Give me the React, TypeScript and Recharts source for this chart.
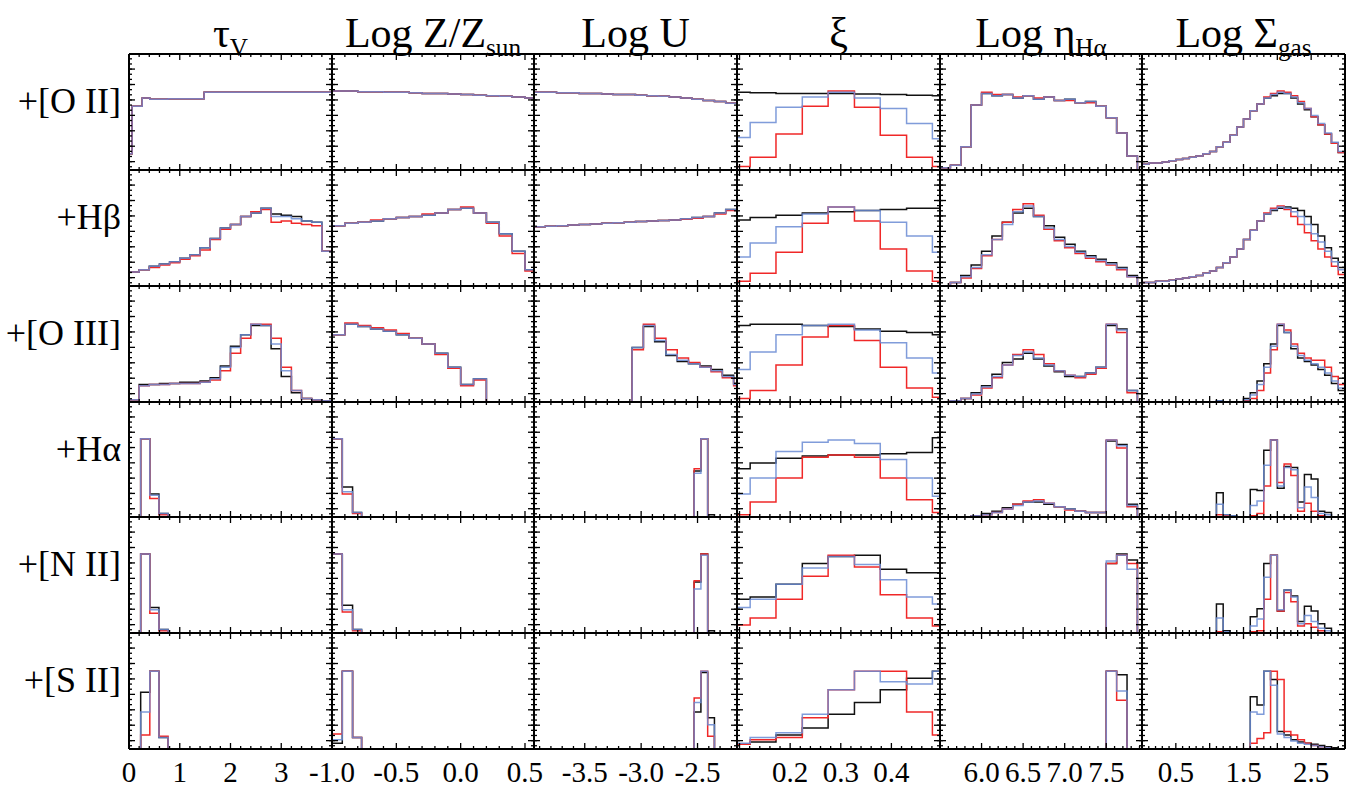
import React from 'react';
import { LineChart, Line, XAxis, YAxis } from 'recharts';

// panel grid (page px)
const COL_X = [129, 332, 534, 737, 940, 1142, 1345];
const ROW_Y = [54, 170, 286, 402, 517, 633, 749];
const PAD = 3;
const LAB_H = 40;

const FONT = '"Liberation Serif", "DejaVu Serif", "Times New Roman", Times, serif';
const BLACK = '#111111';
const BLUE = '#6a8bd4';
const RED = '#f02828';

const ROW_LABELS = ['+[O II]', '+H\u03b2', '+[O III]', '+H\u03b1', '+[N II]', '+[S II]'];

// bin edges, one set per parameter
const tauEdges = [0, 0.2, 0.4, 0.6, 0.8, 1.0, 1.2, 1.4, 1.6, 1.8, 2.0, 2.2, 2.4, 2.6, 2.8, 3.0, 3.2, 3.4, 3.6, 3.8, 4.0];
const tauEdgesO2 = [0, 0.06, 0.26, 0.41, 0.77, 1.48, 4.0];
const tauEdgesLine = [0, 0.23, 0.41, 0.59, 0.77, 4.0];
const zEdges = [-1.0, -0.9, -0.8, -0.7, -0.6, -0.5, -0.4, -0.3, -0.2, -0.1, 0.0, 0.1, 0.2, 0.3, 0.4, 0.5, 0.57];
const zEdgesLine = [-1.0, -0.92, -0.84, -0.77, 0.57];
const uEdges = [-3.95, -3.85, -3.75, -3.65, -3.55, -3.45, -3.35, -3.25, -3.15, -3.05, -2.95, -2.85, -2.75, -2.65, -2.55, -2.45, -2.35, -2.25, -2.15];
const uEdgesO3 = [-3.95, -3.08, -2.98, -2.88, -2.78, -2.68, -2.58, -2.48, -2.38, -2.28, -2.18, -2.15];
const uEdgesLine = [-3.95, -2.53, -2.47, -2.41, -2.35, -2.15];
const xiEdges = [0.095, 0.121, 0.172, 0.224, 0.275, 0.327, 0.378, 0.43, 0.481, 0.496];
const etaEdges = [5.5, 5.625, 5.75, 5.875, 6.0, 6.125, 6.25, 6.375, 6.5, 6.625, 6.75, 6.875, 7.0, 7.125, 7.25, 7.375, 7.5, 7.625, 7.75, 7.875, 7.93];
const sigEdges = [0, 0.1, 0.2, 0.3, 0.4, 0.5, 0.6, 0.7, 0.8, 0.9, 1.0, 1.1, 1.2, 1.3, 1.4, 1.5, 1.6, 1.7, 1.8, 1.9, 2.0, 2.1, 2.2, 2.3, 2.4, 2.5, 2.6, 2.7, 2.8, 2.9, 3.0];

// ---- +[O II] ----
const o2Tau = [0.14, 0.55, 0.62, 0.61, 0.615, 0.67];
const o2Z = [0.68, 0.68, 0.675, 0.675, 0.67, 0.67, 0.665, 0.66, 0.66, 0.655, 0.65, 0.645, 0.64, 0.635, 0.63, 0.62];
const o2U = [0.67, 0.67, 0.665, 0.665, 0.66, 0.66, 0.655, 0.65, 0.65, 0.645, 0.64, 0.635, 0.63, 0.62, 0.61, 0.6, 0.59, 0.575];
const o2XiK = [0.67, 0.665, 0.66, 0.66, 0.66, 0.655, 0.65, 0.645, 0.64];
const o2XiB = [0.28, 0.41, 0.54, 0.63, 0.67, 0.62, 0.53, 0.4, 0.27];
const o2XiR = [0.03, 0.11, 0.31, 0.55, 0.68, 0.54, 0.3, 0.11, 0.03];
const o2EtaB = [0.02, 0.04, 0.2, 0.56, 0.66, 0.64, 0.65, 0.62, 0.64, 0.61, 0.63, 0.6, 0.61, 0.58, 0.59, 0.55, 0.45, 0.32, 0.12, 0];
const o2EtaR = [0.02, 0.04, 0.2, 0.56, 0.67, 0.65, 0.65, 0.63, 0.64, 0.62, 0.63, 0.6, 0.6, 0.58, 0.58, 0.55, 0.45, 0.32, 0.12, 0];
const o2SigK = [0.05, 0.06, 0.06, 0.07, 0.08, 0.09, 0.1, 0.11, 0.12, 0.14, 0.16, 0.2, 0.24, 0.3, 0.37, 0.44, 0.51, 0.57, 0.62, 0.64, 0.66, 0.66, 0.62, 0.57, 0.52, 0.46, 0.39, 0.31, 0.23, 0.15];
const o2SigB = [0.05, 0.06, 0.06, 0.07, 0.08, 0.09, 0.1, 0.11, 0.12, 0.14, 0.16, 0.2, 0.24, 0.3, 0.37, 0.44, 0.51, 0.57, 0.62, 0.65, 0.67, 0.66, 0.63, 0.58, 0.53, 0.47, 0.4, 0.32, 0.24, 0.16];
const o2SigR = [0.05, 0.06, 0.06, 0.07, 0.08, 0.09, 0.1, 0.11, 0.12, 0.14, 0.16, 0.2, 0.24, 0.3, 0.37, 0.44, 0.51, 0.57, 0.63, 0.66, 0.68, 0.67, 0.64, 0.59, 0.53, 0.46, 0.39, 0.31, 0.23, 0.15];

// ---- +Hbeta ----
const hbTauK = [0.12, 0.14, 0.17, 0.19, 0.21, 0.24, 0.27, 0.33, 0.41, 0.5, 0.53, 0.6, 0.63, 0.67, 0.62, 0.61, 0.6, 0.56, 0.55, 0.3];
const hbTauB = [0.12, 0.14, 0.17, 0.19, 0.21, 0.24, 0.27, 0.33, 0.41, 0.5, 0.53, 0.6, 0.63, 0.67, 0.6, 0.6, 0.58, 0.56, 0.55, 0.3];
const hbTauR = [0.12, 0.14, 0.16, 0.18, 0.2, 0.23, 0.26, 0.31, 0.4, 0.49, 0.53, 0.6, 0.64, 0.66, 0.55, 0.56, 0.54, 0.53, 0.52, 0.3];
const hbZK = [0.52, 0.54, 0.55, 0.56, 0.58, 0.59, 0.6, 0.61, 0.63, 0.66, 0.67, 0.63, 0.55, 0.45, 0.3, 0.14];
const hbZR = [0.52, 0.54, 0.55, 0.57, 0.58, 0.59, 0.6, 0.62, 0.63, 0.66, 0.68, 0.63, 0.54, 0.43, 0.28, 0.13];
const hbUK = [0.51, 0.515, 0.52, 0.525, 0.53, 0.535, 0.54, 0.545, 0.55, 0.555, 0.56, 0.565, 0.57, 0.58, 0.59, 0.6, 0.63, 0.66];
const hbUR = [0.51, 0.515, 0.52, 0.525, 0.53, 0.535, 0.54, 0.545, 0.55, 0.555, 0.56, 0.565, 0.57, 0.575, 0.585, 0.6, 0.62, 0.65];
const hbXiK = [0.57, 0.59, 0.61, 0.63, 0.64, 0.65, 0.66, 0.67, 0.67];
const hbXiB = [0.25, 0.37, 0.51, 0.62, 0.68, 0.65, 0.55, 0.43, 0.29];
const hbXiR = [0.04, 0.11, 0.29, 0.54, 0.68, 0.56, 0.32, 0.13, 0.04];
const hbEtaK = [0, 0.03, 0.09, 0.18, 0.3, 0.43, 0.55, 0.63, 0.67, 0.6, 0.52, 0.42, 0.36, 0.3, 0.26, 0.23, 0.2, 0.16, 0.09, 0];
const hbEtaB = [0, 0.03, 0.08, 0.16, 0.27, 0.4, 0.53, 0.64, 0.69, 0.6, 0.5, 0.4, 0.34, 0.29, 0.25, 0.22, 0.19, 0.15, 0.08, 0];
const hbEtaR = [0, 0.03, 0.07, 0.15, 0.26, 0.4, 0.55, 0.66, 0.71, 0.61, 0.49, 0.39, 0.33, 0.28, 0.24, 0.21, 0.18, 0.14, 0.08, 0];
const hbSigK = [0.03, 0.03, 0.04, 0.04, 0.05, 0.06, 0.07, 0.08, 0.09, 0.11, 0.13, 0.16, 0.2, 0.25, 0.32, 0.4, 0.48, 0.56, 0.62, 0.65, 0.67, 0.68, 0.67, 0.65, 0.6, 0.53, 0.43, 0.33, 0.24, 0.16];
const hbSigB = [0.03, 0.03, 0.04, 0.04, 0.05, 0.06, 0.07, 0.08, 0.09, 0.11, 0.13, 0.16, 0.2, 0.25, 0.32, 0.4, 0.48, 0.56, 0.62, 0.66, 0.68, 0.67, 0.64, 0.6, 0.53, 0.45, 0.38, 0.3, 0.21, 0.14];
const hbSigR = [0.03, 0.03, 0.04, 0.04, 0.05, 0.06, 0.07, 0.08, 0.09, 0.11, 0.13, 0.16, 0.2, 0.25, 0.32, 0.4, 0.48, 0.56, 0.63, 0.67, 0.69, 0.66, 0.6, 0.53, 0.46, 0.39, 0.32, 0.25, 0.17, 0.1];

// ---- +[O III] ----
const o3TauK = [0.02, 0.15, 0.15, 0.16, 0.16, 0.17, 0.17, 0.18, 0.21, 0.31, 0.48, 0.58, 0.66, 0.66, 0.46, 0.22, 0.08, 0.03, 0.02, 0.01];
const o3TauB = [0.02, 0.14, 0.15, 0.15, 0.16, 0.16, 0.16, 0.17, 0.2, 0.3, 0.47, 0.58, 0.67, 0.66, 0.5, 0.27, 0.1, 0.03, 0.02, 0.01];
const o3TauR = [0.02, 0.14, 0.15, 0.15, 0.16, 0.16, 0.16, 0.17, 0.19, 0.27, 0.42, 0.55, 0.67, 0.67, 0.55, 0.3, 0.1, 0.03, 0.02, 0.01];
const o3ZK = [0.58, 0.67, 0.65, 0.63, 0.61, 0.58, 0.55, 0.5, 0.42, 0.3, 0.15, 0.2, 0, 0, 0, 0];
const o3ZR = [0.58, 0.68, 0.66, 0.64, 0.62, 0.59, 0.55, 0.5, 0.41, 0.29, 0.14, 0.19, 0, 0, 0, 0];
const o3UK = [0, 0.47, 0.65, 0.52, 0.4, 0.35, 0.33, 0.31, 0.28, 0.23, 0.16];
const o3UB = [0, 0.47, 0.66, 0.53, 0.41, 0.36, 0.33, 0.3, 0.27, 0.22, 0.15];
const o3UR = [0, 0.45, 0.67, 0.55, 0.45, 0.38, 0.34, 0.3, 0.26, 0.21, 0.14];
const o3XiK = [0.66, 0.67, 0.67, 0.66, 0.65, 0.63, 0.61, 0.6, 0.58];
const o3XiB = [0.28, 0.43, 0.58, 0.66, 0.67, 0.62, 0.51, 0.38, 0.25];
const o3XiR = [0.03, 0.1, 0.32, 0.56, 0.66, 0.53, 0.3, 0.12, 0.04];
const o3EtaK = [0, 0.01, 0.03, 0.08, 0.14, 0.24, 0.34, 0.37, 0.42, 0.37, 0.31, 0.26, 0.22, 0.22, 0.25, 0.3, 0.66, 0.63, 0.1, 0];
const o3EtaB = [0, 0.01, 0.03, 0.07, 0.13, 0.22, 0.32, 0.4, 0.43, 0.38, 0.32, 0.27, 0.23, 0.22, 0.25, 0.3, 0.67, 0.62, 0.1, 0];
const o3EtaR = [0, 0.01, 0.03, 0.06, 0.12, 0.21, 0.32, 0.41, 0.45, 0.41, 0.33, 0.27, 0.23, 0.21, 0.24, 0.29, 0.67, 0.6, 0.08, 0];
const o3SigK = [0, 0, 0, 0, 0, 0, 0, 0, 0, 0, 0, 0.01, 0, 0, 0, 0.03, 0.08, 0.18, 0.33, 0.5, 0.66, 0.6, 0.46, 0.38, 0.35, 0.32, 0.28, 0.23, 0.16, 0.1];
const o3SigB = [0, 0, 0, 0, 0, 0, 0, 0, 0, 0, 0, 0.01, 0, 0, 0, 0.02, 0.06, 0.15, 0.3, 0.48, 0.67, 0.6, 0.48, 0.4, 0.36, 0.33, 0.3, 0.25, 0.18, 0.12];
const o3SigR = [0, 0, 0, 0, 0, 0, 0, 0, 0, 0, 0, 0, 0, 0, 0, 0.01, 0.03, 0.1, 0.25, 0.45, 0.67, 0.62, 0.5, 0.42, 0.38, 0.36, 0.36, 0.3, 0.22, 0.15];

// ---- +Halpha ----
const haTauK = [0, 0.68, 0.2, 0.03, 0];
const haTauB = [0, 0.68, 0.19, 0.03, 0];
const haTauR = [0, 0.68, 0.16, 0.02, 0];
const haZK = [0.68, 0.26, 0.04, 0];
const haZB = [0.68, 0.22, 0.04, 0];
const haZR = [0.68, 0.2, 0.03, 0];
const haUK = [0, 0.4, 0.68, 0.02, 0];
const haUB = [0, 0.38, 0.68, 0, 0];
const haUR = [0, 0.42, 0.68, 0, 0];
const haXiK = [0.42, 0.47, 0.51, 0.53, 0.54, 0.54, 0.55, 0.56, 0.69];
const haXiB = [0.2, 0.34, 0.57, 0.65, 0.67, 0.64, 0.5, 0.34, 0.18];
const haXiR = [0.02, 0.13, 0.34, 0.52, 0.54, 0.52, 0.34, 0.15, 0.04];
const haEtaK = [0, 0, 0, 0.01, 0.03, 0.05, 0.08, 0.11, 0.13, 0.13, 0.11, 0.09, 0.07, 0.05, 0.04, 0.04, 0.66, 0.63, 0.11, 0];
const haEtaB = [0, 0, 0, 0.01, 0.02, 0.04, 0.07, 0.1, 0.13, 0.14, 0.12, 0.09, 0.07, 0.05, 0.04, 0.04, 0.67, 0.62, 0.1, 0];
const haEtaR = [0, 0, 0, 0.01, 0.02, 0.04, 0.07, 0.11, 0.14, 0.15, 0.12, 0.09, 0.06, 0.05, 0.04, 0.04, 0.67, 0.6, 0.09, 0];
const haSigK = [0, 0, 0, 0, 0, 0, 0, 0, 0, 0, 0, 0.21, 0.02, 0.01, 0, 0, 0.24, 0.23, 0.58, 0.67, 0.25, 0.44, 0.43, 0.13, 0.37, 0.33, 0.05, 0.04, 0, 0];
const haSigB = [0, 0, 0, 0, 0, 0, 0, 0, 0, 0, 0, 0.11, 0.02, 0.01, 0, 0, 0.1, 0.14, 0.45, 0.67, 0.27, 0.43, 0.41, 0.08, 0.26, 0.17, 0.03, 0.02, 0, 0];
const haSigR = [0, 0, 0, 0, 0, 0, 0, 0, 0, 0, 0, 0.02, 0.01, 0, 0, 0, 0.01, 0.03, 0.27, 0.67, 0.3, 0.46, 0.36, 0.05, 0.12, 0.05, 0.01, 0, 0, 0];

// ---- +[N II] ----
const n2TauK = [0, 0.68, 0.22, 0.03, 0];
const n2TauB = [0, 0.68, 0.2, 0.03, 0];
const n2TauR = [0, 0.68, 0.17, 0.02, 0];
const n2ZK = [0.68, 0.24, 0.03, 0];
const n2ZB = [0.68, 0.2, 0.03, 0];
const n2ZR = [0.68, 0.18, 0.02, 0];
const n2UK = [0, 0.44, 0.68, 0.02, 0];
const n2UB = [0, 0.38, 0.67, 0, 0];
const n2UR = [0, 0.45, 0.68, 0, 0];
const n2XiK = [0.29, 0.31, 0.42, 0.6, 0.66, 0.67, 0.55, 0.52, 0.52];
const n2XiB = [0.22, 0.29, 0.42, 0.56, 0.66, 0.59, 0.46, 0.31, 0.25];
const n2XiR = [0.07, 0.13, 0.29, 0.49, 0.67, 0.57, 0.33, 0.13, 0.06];
const n2EtaK = [0, 0, 0, 0, 0, 0, 0, 0, 0, 0, 0, 0, 0, 0, 0, 0, 0.6, 0.68, 0.63, 0];
const n2EtaB = [0, 0, 0, 0, 0, 0, 0, 0, 0, 0, 0, 0, 0, 0, 0, 0, 0.62, 0.67, 0.55, 0];
const n2EtaR = [0, 0, 0, 0, 0, 0, 0, 0, 0, 0, 0, 0, 0, 0, 0, 0, 0.6, 0.67, 0.6, 0];
const n2SigK = [0, 0, 0, 0, 0, 0, 0, 0, 0, 0, 0, 0.25, 0.02, 0, 0, 0, 0.14, 0.21, 0.6, 0.67, 0.19, 0.37, 0.32, 0.1, 0.23, 0.19, 0.08, 0.04, 0, 0];
const n2SigB = [0, 0, 0, 0, 0, 0, 0, 0, 0, 0, 0, 0.13, 0.01, 0, 0, 0, 0.06, 0.12, 0.48, 0.67, 0.2, 0.37, 0.31, 0.08, 0.15, 0.1, 0.04, 0.02, 0, 0];
const n2SigR = [0, 0, 0, 0, 0, 0, 0, 0, 0, 0, 0, 0.01, 0, 0, 0, 0, 0.01, 0.02, 0.29, 0.67, 0.19, 0.35, 0.27, 0.06, 0.08, 0.05, 0.02, 0, 0, 0];

// ---- +[S II] ----
const s2TauK = [0, 0.49, 0.67, 0.1, 0];
const s2TauB = [0, 0.32, 0.67, 0.1, 0];
const s2TauR = [0, 0.12, 0.67, 0.11, 0];
const s2ZK = [0.05, 0.67, 0.1, 0];
const s2ZB = [0.08, 0.67, 0.1, 0];
const s2ZR = [0.13, 0.67, 0.1, 0];
const s2UK = [0, 0.32, 0.66, 0.27, 0];
const s2UB = [0, 0.4, 0.67, 0.21, 0];
const s2UR = [0, 0.44, 0.67, 0.11, 0];
const s2XiK = [0.04, 0.06, 0.12, 0.18, 0.3, 0.4, 0.51, 0.61, 0.67];
const s2XiB = [0.05, 0.1, 0.14, 0.3, 0.51, 0.67, 0.58, 0.56, 0.67];
const s2XiR = [0.04, 0.08, 0.1, 0.27, 0.51, 0.67, 0.67, 0.32, 0.12];
const s2EtaK = [0, 0, 0, 0, 0, 0, 0, 0, 0, 0, 0, 0, 0, 0, 0, 0, 0.67, 0.64, 0, 0];
const s2EtaB = [0, 0, 0, 0, 0, 0, 0, 0, 0, 0, 0, 0, 0, 0, 0, 0, 0.67, 0.5, 0, 0];
const s2EtaR = [0, 0, 0, 0, 0, 0, 0, 0, 0, 0, 0, 0, 0, 0, 0, 0, 0.67, 0.42, 0, 0];
const s2SigK = [0, 0, 0, 0, 0, 0, 0, 0, 0, 0, 0, 0, 0, 0, 0, 0, 0.45, 0.38, 0.67, 0.6, 0.15, 0.12, 0.08, 0.06, 0.05, 0.04, 0.03, 0.02, 0.01, 0];
const s2SigB = [0, 0, 0, 0, 0, 0, 0, 0, 0, 0, 0, 0, 0, 0, 0, 0, 0.32, 0.3, 0.67, 0.55, 0.13, 0.1, 0.07, 0.05, 0.04, 0.03, 0.02, 0.01, 0, 0];
const s2SigR = [0, 0, 0, 0, 0, 0, 0, 0, 0, 0, 0, 0, 0, 0, 0, 0, 0.05, 0.09, 0.14, 0.67, 0.6, 0.15, 0.12, 0.08, 0.05, 0.03, 0.02, 0.01, 0, 0];

type Hist = { e: number[]; k: number[]; b: number[]; r: number[] };

const PANELS: Hist[][] = [
  [
    { e: tauEdgesO2, k: o2Tau, b: o2Tau, r: o2Tau },
    { e: zEdges, k: o2Z, b: o2Z, r: o2Z },
    { e: uEdges, k: o2U, b: o2U, r: o2U },
    { e: xiEdges, k: o2XiK, b: o2XiB, r: o2XiR },
    { e: etaEdges, k: o2EtaB, b: o2EtaB, r: o2EtaR },
    { e: sigEdges, k: o2SigK, b: o2SigB, r: o2SigR },
  ],
  [
    { e: tauEdges, k: hbTauK, b: hbTauB, r: hbTauR },
    { e: zEdges, k: hbZK, b: hbZK, r: hbZR },
    { e: uEdges, k: hbUK, b: hbUK, r: hbUR },
    { e: xiEdges, k: hbXiK, b: hbXiB, r: hbXiR },
    { e: etaEdges, k: hbEtaK, b: hbEtaB, r: hbEtaR },
    { e: sigEdges, k: hbSigK, b: hbSigB, r: hbSigR },
  ],
  [
    { e: tauEdges, k: o3TauK, b: o3TauB, r: o3TauR },
    { e: zEdges, k: o3ZK, b: o3ZK, r: o3ZR },
    { e: uEdgesO3, k: o3UK, b: o3UB, r: o3UR },
    { e: xiEdges, k: o3XiK, b: o3XiB, r: o3XiR },
    { e: etaEdges, k: o3EtaK, b: o3EtaB, r: o3EtaR },
    { e: sigEdges, k: o3SigK, b: o3SigB, r: o3SigR },
  ],
  [
    { e: tauEdgesLine, k: haTauK, b: haTauB, r: haTauR },
    { e: zEdgesLine, k: haZK, b: haZB, r: haZR },
    { e: uEdgesLine, k: haUK, b: haUB, r: haUR },
    { e: xiEdges, k: haXiK, b: haXiB, r: haXiR },
    { e: etaEdges, k: haEtaK, b: haEtaB, r: haEtaR },
    { e: sigEdges, k: haSigK, b: haSigB, r: haSigR },
  ],
  [
    { e: tauEdgesLine, k: n2TauK, b: n2TauB, r: n2TauR },
    { e: zEdgesLine, k: n2ZK, b: n2ZB, r: n2ZR },
    { e: uEdgesLine, k: n2UK, b: n2UB, r: n2UR },
    { e: xiEdges, k: n2XiK, b: n2XiB, r: n2XiR },
    { e: etaEdges, k: n2EtaK, b: n2EtaB, r: n2EtaR },
    { e: sigEdges, k: n2SigK, b: n2SigB, r: n2SigR },
  ],
  [
    { e: tauEdgesLine, k: s2TauK, b: s2TauB, r: s2TauR },
    { e: zEdgesLine, k: s2ZK, b: s2ZB, r: s2ZR },
    { e: uEdgesLine, k: s2UK, b: s2UB, r: s2UR },
    { e: xiEdges, k: s2XiK, b: s2XiB, r: s2XiR },
    { e: etaEdges, k: s2EtaK, b: s2EtaB, r: s2EtaR },
    { e: sigEdges, k: s2SigK, b: s2SigB, r: s2SigR },
  ],
];

// axis setup per column
const steps = (a: number, b: number, s: number) => {
  const out: number[] = [];
  for (let v = a; v <= b + 1e-9; v += s) out.push(Math.round(v * 10000) / 10000);
  return out;
};

type ColAxis = { domain: [number, number]; major: number[]; minor: number[]; labels: number[]; fmt: (v: number) => string };

const COLS: ColAxis[] = [
  { domain: [0, 4], major: [1, 2, 3], minor: steps(0.2, 3.8, 0.2), labels: [0, 1, 2, 3], fmt: (v) => String(v) },
  { domain: [-1.0, 0.57], major: [-0.5, 0, 0.5], minor: steps(-0.9, 0.5, 0.1), labels: [-1.0, -0.5, 0.0, 0.5], fmt: (v) => v.toFixed(1) },
  { domain: [-3.95, -2.15], major: [-3.5, -3.0, -2.5], minor: steps(-3.9, -2.2, 0.1), labels: [-3.5, -3.0, -2.5], fmt: (v) => v.toFixed(1) },
  { domain: [0.095, 0.496], major: [0.1, 0.2, 0.3, 0.4], minor: steps(0.1, 0.48, 0.02), labels: [0.2, 0.3, 0.4], fmt: (v) => v.toFixed(1) },
  { domain: [5.5, 7.93], major: [6.0, 6.5, 7.0, 7.5], minor: steps(5.6, 7.9, 0.1), labels: [6.0, 6.5, 7.0, 7.5], fmt: (v) => v.toFixed(1) },
  { domain: [0, 3.0], major: [0.5, 1.0, 1.5, 2.0, 2.5], minor: steps(0.1, 2.9, 0.1), labels: [0.5, 1.5, 2.5], fmt: (v) => v.toFixed(1) },
];

const Y_MAJOR = [0.072, 0.205, 0.338, 0.471, 0.604, 0.737, 0.87];
const Y_MINOR = steps(0.028, 0.96, 0.0443);

const isIn = (list: number[], v: number) => list.some((m) => Math.abs(m - v) < 1e-6);

const makeTick = (side: 'top' | 'bottom' | 'left' | 'right', major: number[]) => (p: any) => {
  const len = isIn(major, p.payload.value) ? 6 : 3;
  const x = p.x;
  const y = p.y;
  let x2 = x;
  let y2 = y;
  if (side === 'bottom') y2 = y - len;
  if (side === 'top') y2 = y + len;
  if (side === 'left') x2 = x + len;
  if (side === 'right') x2 = x - len;
  return <line key={`${side}-${p.index}`} x1={x} y1={y} x2={x2} y2={y2} stroke="#000" strokeWidth={1.3} />;
};

// bottom-row value labels, drawn in the serif face
const makeLabel = (fmt: (v: number) => string) => (p: any) => (
  <text key={`lab-${p.index}`} x={p.x} y={p.y} dy={21} textAnchor="middle" fill="#000"
    fontSize={29} fontFamily={FONT} style={{ fontFamily: FONT }}>
    {fmt(p.payload.value)}
  </text>
);

const AXIS_LINE = { stroke: '#000', strokeWidth: 2 };

function Panel({ row, col }: { row: number; col: number }) {
  const cfg = COLS[col];
  const h = PANELS[row][col];
  const w = COL_X[col + 1] - COL_X[col];
  const ht = ROW_Y[row + 1] - ROW_Y[row];
  const last = row === 5;
  const data = h.e.map((x, i) => {
    const j = Math.min(i, h.k.length - 1);
    return { x, k: h.k[j], b: h.b[j], r: h.r[j] };
  });
  const xTicks = [...cfg.major, ...cfg.minor.filter((v) => !isIn(cfg.major, v))].filter(
    (v) => v > cfg.domain[0] + 1e-6 && v < cfg.domain[1] - 1e-6,
  );
  const yTicks = [...Y_MAJOR, ...Y_MINOR.filter((v) => !isIn(Y_MAJOR, v))];
  const lineProps = { type: 'stepAfter' as const, xAxisId: 'b', yAxisId: 'l', dot: false, activeDot: false, isAnimationActive: false, strokeWidth: 1.5 };
  return (
    <div style={{ position: 'absolute', left: COL_X[col] - PAD, top: ROW_Y[row] - PAD }}>
      <LineChart
        width={w + 2 * PAD}
        height={ht + 2 * PAD + (last ? LAB_H : 0)}
        data={data}
        margin={{ top: PAD, right: PAD, bottom: PAD, left: PAD }}
      >
        <XAxis xAxisId="b" orientation="bottom" mirror height={1} type="number" dataKey="x" domain={cfg.domain} allowDataOverflow
          ticks={xTicks} interval={0} tickSize={0} tickMargin={0} tickLine={false} tick={makeTick('bottom', cfg.major)} axisLine={AXIS_LINE} />
        <XAxis xAxisId="t" orientation="top" mirror height={1} type="number" dataKey="x" domain={cfg.domain} allowDataOverflow
          ticks={xTicks} interval={0} tickSize={0} tickMargin={0} tickLine={false} tick={makeTick('top', cfg.major)} axisLine={AXIS_LINE} />
        <YAxis yAxisId="l" orientation="left" mirror width={1} type="number" domain={[0, 1]} allowDataOverflow
          ticks={yTicks} interval={0} tickSize={0} tickMargin={0} tickLine={false} tick={makeTick('left', Y_MAJOR)} axisLine={AXIS_LINE} />
        <YAxis yAxisId="r" orientation="right" mirror width={1} type="number" domain={[0, 1]} allowDataOverflow
          ticks={yTicks} interval={0} tickSize={0} tickMargin={0} tickLine={false} tick={makeTick('right', Y_MAJOR)} axisLine={AXIS_LINE} />
        {last && (
          <XAxis xAxisId="lab" orientation="bottom" height={LAB_H} type="number" dataKey="x" domain={cfg.domain} allowDataOverflow
            ticks={cfg.labels} interval={0} tickLine={false} axisLine={false} tickSize={0} tickMargin={12}
            tick={makeLabel(cfg.fmt)} />
        )}
        <Line {...lineProps} dataKey="k" stroke={BLACK} />
        <Line {...lineProps} dataKey="r" stroke={RED} />
        <Line {...lineProps} dataKey="b" stroke={BLUE} strokeOpacity={0.85} />
      </LineChart>
    </div>
  );
}

const sub = { fontSize: '0.6em', verticalAlign: '-0.35em' };

const TITLES = [
  <>{'\u03c4'}<span style={sub}>V</span></>,
  <>Log Z/Z<span style={sub}>sun</span></>,
  <>Log U</>,
  <>{'\u03be'}</>,
  <>Log {'\u03b7'}<span style={sub}>H{'\u03b1'}</span></>,
  <>Log {'\u03a3'}<span style={sub}>gas</span></>,
];

export default function App() {
  return (
    <div style={{ position: 'absolute', left: 0, top: 0, width: 1350, height: 788, background: '#fff', fontFamily: FONT, color: '#000' }}>
      <style>{'.recharts-surface{overflow:visible}'}</style>
      {TITLES.map((t, c) => (
        <div key={c} style={{ position: 'absolute', left: COL_X[c] - 20, width: COL_X[c + 1] - COL_X[c] + 40, top: 12, textAlign: 'center', fontSize: 42, lineHeight: 1, whiteSpace: 'nowrap' }}>
          {t}
        </div>
      ))}
      {ROW_LABELS.map((t, r) => (
        <div key={t} style={{ position: 'absolute', right: 1350 - 121, top: (ROW_Y[r] + ROW_Y[r + 1]) / 2 - 29, fontSize: 36, lineHeight: 1, whiteSpace: 'nowrap' }}>
          {t}
        </div>
      ))}
      {PANELS.map((rowPanels, r) => rowPanels.map((_, c) => <Panel key={`${r}-${c}`} row={r} col={c} />))}
    </div>
  );
}
